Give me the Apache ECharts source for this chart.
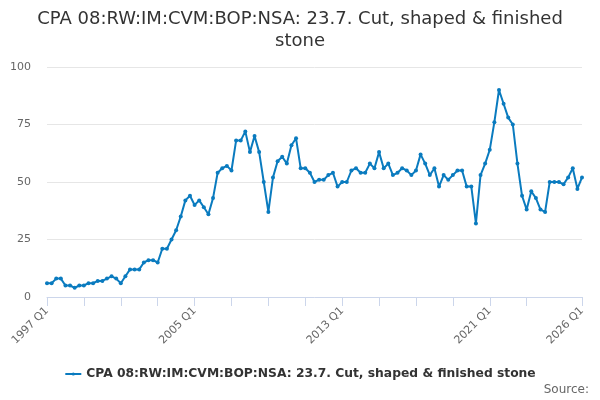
<!DOCTYPE html>
<html>
<head>
<meta charset="utf-8">
<script src="https://cdn.jsdelivr.net/npm/echarts@6/dist/echarts.min.js"></script>
<style>html,body{margin:0;padding:0;background:#fff}#c{width:600px;height:400px}</style>
</head>
<body>
<div id="c"></div>
<script>
var titleText = 'CPA 08:RW:IM:CVM:BOP:NSA: 23.7. Cut, shaped & finished\nstone';
var seriesName = 'CPA 08:RW:IM:CVM:BOP:NSA: 23.7. Cut, shaped & finished stone';
var startYear = 1997, endYear = 2026;
var categories = [];
for (var y = startYear; y <= endYear; y++) {
  for (var q = 1; q <= 4; q++) {
    if (y === endYear && q > 1) break;
    categories.push(y + ' Q' + q);
  }
}
var values = [
  6,6,8,8,5,5,4,5,5,6,6,7,7,8,9,8,6,9,12,12,
  12,15,16,16,15,21,21,25,29,35,42,44,40,42,39,36,43,54,56,57,
  55,68,68,72,63,70,63,50,37,52,59,61,58,66,69,56,56,54,50,51,
  51,53,54,48,50,50,55,56,54,54,58,56,63,56,58,53,54,56,55,53,
  55,62,58,53,56,48,53,51,53,55,55,48,48,32,53,58,64,76,90,84,
  78,75,58,44,38,46,43,38,37,50,50,50,49,52,56,47,52
];
var yTicks = [0, 25, 50, 75, 100];
var sourceText = 'Source:';

var chart = echarts.init(document.getElementById('c'));
var last = categories.length - 1;
chart.setOption({
  animation: false,
  textStyle: { fontFamily: 'DejaVu Sans' },
  title: {
    text: titleText,
    left: 'center',
    top: 3,
    textStyle: { fontSize: 18, fontWeight: 'normal', color: '#333', lineHeight: 22, fontFamily: 'DejaVu Sans' }
  },
  grid: { left: 47, right: 18, top: 67, bottom: 103, containLabel: false },
  xAxis: {
    type: 'category',
    data: categories,
    boundaryGap: false,
    axisLine: { lineStyle: { color: '#ccd6eb', width: 1 } },
    axisTick: {
      length: 9,
      lineStyle: { color: '#ccd6eb' },
      interval: function (i) { return (i % 8 === 0 && i <= 104) || i === last; }
    },
    axisLabel: {
      rotate: 45,
      color: '#666',
      fontSize: 11,
      margin: 12,
      interval: function (i) { return i % 32 === 0 || i === last; }
    },
    splitLine: { show: false }
  },
  yAxis: {
    type: 'value',
    min: yTicks[0],
    max: yTicks[yTicks.length - 1],
    interval: 25,
    axisLine: { show: false },
    axisTick: { show: false },
    axisLabel: { color: '#666', fontSize: 11, margin: 16 },
    splitLine: { lineStyle: { color: '#e6e6e6' } }
  },
  legend: {
    bottom: 15,
    left: 'center',
    itemWidth: 16,
    itemHeight: 4,
    itemGap: 5,
    textStyle: { fontSize: 12.3, fontWeight: 'bold', color: '#333', fontFamily: 'DejaVu Sans' },
    data: [seriesName]
  },
  graphic: [{
    type: 'text',
    right: 11,
    bottom: 4,
    style: { text: sourceText, fontSize: 12, fill: '#666', fontFamily: 'DejaVu Sans' }
  }],
  series: [{
    name: seriesName,
    type: 'line',
    data: values,
    symbol: 'circle',
    symbolSize: 4,
    showSymbol: true,
    showAllSymbol: true,
    lineStyle: { width: 2, color: '#0a7bbf' },
    itemStyle: { color: '#0a7bbf' }
  }]
});
</script>
</body>
</html>
